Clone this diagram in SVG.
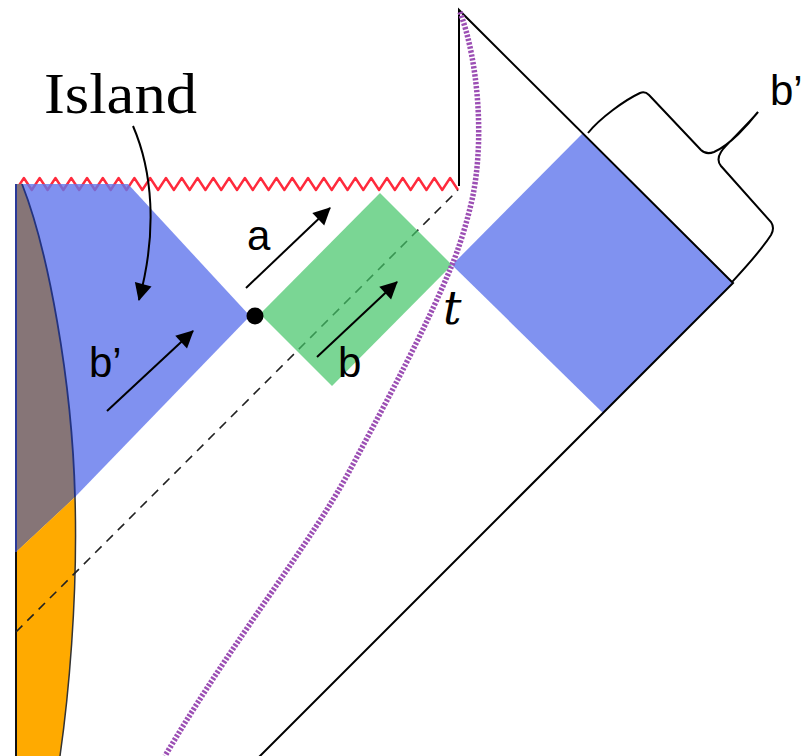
<svg xmlns="http://www.w3.org/2000/svg" width="804" height="756" viewBox="0 0 804 756">
<defs>
<style>
.edge{fill:none;stroke:#000;stroke-width:2}
.arrow{fill:none;stroke:#000;stroke-width:2;marker-end:url(#ah)}
.lbl{font-family:"Liberation Sans",Arial,sans-serif;font-size:42px;fill:#000}
.blue{fill:#8092F0}
</style>
<marker id="ah" viewBox="0 0 10 10" refX="9" refY="5" markerWidth="7.5" markerHeight="7.5" markerUnits="userSpaceOnUse" orient="auto" style="overflow:visible">
<path d="M0,0 L10,5 L0,10 Z" fill="#000" transform="scale(2.3) translate(-5.5,-2.8)"/>
</marker>
</defs>
<rect width="804" height="756" fill="#fff"/>

<g id="singularity">
<path d="M16,190
l7.893,-12 l7.893,12 l7.893,-12 l7.893,12 l7.893,-12 l7.893,12 l7.893,-12 l7.893,12 l7.893,-12 l7.893,12 l7.893,-12 l7.893,12 l7.893,-12 l7.893,12
l7.893,-12 l7.893,12 l7.893,-12 l7.893,12 l7.893,-12 l7.893,12 l7.893,-12 l7.893,12 l7.893,-12 l7.893,12 l7.893,-12 l7.893,12 l7.893,-12 l7.893,12
l7.893,-12 l7.893,12 l7.893,-12 l7.893,12 l7.893,-12 l7.893,12 l7.893,-12 l7.893,12 l7.893,-12 l7.893,12 l7.893,-12 l7.893,12 l7.893,-12 l7.893,12
l7.893,-12 l7.893,12 l7.893,-12 l7.893,12 l7.893,-12 l7.893,12 l7.893,-12 l7.893,12 l7.893,-12 l7.893,12 l7.893,-12 l7.893,12 l7.893,-12 l7.893,12" fill="none" stroke="#FF2A3C" stroke-width="2.4" stroke-linejoin="round"/>
</g>

<g id="island-wedge">
<polygon points="16,184 128,184 250,316 75,497 16,552" fill="#6076EC" fill-opacity="0.8"/>
</g>
<g id="brown-region">
<path d="M16,184 L22,184 C48,250 72,380 75,497 L16,552 Z" fill="#867577"/>
</g>
<g id="orange-region">
<path d="M16,552 L75,497 C78,600 68,700 60,756 L16,756 Z" fill="#FFAA00"/>
</g>
<g id="left-boundary">
<line x1="16" y1="184" x2="16" y2="552" stroke="#2A3A9A" stroke-width="2"/>
<line x1="16" y1="552" x2="16" y2="756" stroke="#111" stroke-width="2"/>
<path d="M22,184 C48,250 72,380 75,497" fill="none" stroke="#23337F" stroke-width="1.8"/>
<path d="M75,497 C78,600 68,700 60,756" fill="none" stroke="#333" stroke-width="1.5"/>
</g>

<g id="connectors">
<line x1="16" y1="632" x2="458" y2="190" stroke="#222" stroke-width="1.6" stroke-dasharray="9 7"/>
</g>

<g id="green-region">
<polygon points="260,314 380,193 452,265 332,386" fill="#41C466" fill-opacity="0.7"/>
</g>
<g id="right-square">
<polygon class="blue" points="452,265 583,133 733,283 603,413"/>
</g>

<g id="outer-boundary">
<path class="edge" d="M459,186 L459,10 L733,283 L259,757"/>
</g>

<g id="brace">
<path class="edge" d="M588,133 C600,118 625,100 640,93 Q645,91 649,95 L701,150 Q706,155 714,152 C730,145 748,125 758,112 C745,128 725,145 721,152 Q716,160 721,166 L771,222 Q775,228 771,235 C760,252 745,268 732,282"/>
</g>

<g id="trajectory">
<path d="M460,12 C478,60 485,140 472,200 C465,230 458,250 452,265 C425,330 390,395 350,470 C310,545 233,640 165,756" fill="none" stroke="#9C4FB4" stroke-width="5.5" stroke-dasharray="2.4 1.6"/>
</g>

<g id="point">
<circle cx="255" cy="316" r="8.5" fill="#000"/>
</g>

<g id="arrows">
<line class="arrow" x1="246" y1="288" x2="330" y2="208"/>
<line class="arrow" x1="317" y1="357" x2="397" y2="282"/>
<line class="arrow" x1="107" y1="411" x2="193" y2="331"/>
<path class="arrow" d="M133,126 C152,170 158,230 139,300"/>
</g>

<g id="labels">
<text x="44" y="113" font-family="'Liberation Serif','Times New Roman',serif" font-size="57" textLength="153" lengthAdjust="spacingAndGlyphs">Island</text>
<text class="lbl" x="247" y="250">a</text>
<text class="lbl" x="338" y="377">b</text>
<text class="lbl" x="89" y="377">b’</text>
<text class="lbl" x="770" y="105">b’</text>
<text x="443" y="324" font-family="'DejaVu Serif','Liberation Serif',serif" font-style="italic" font-size="46">t</text>
</g>
</svg>
